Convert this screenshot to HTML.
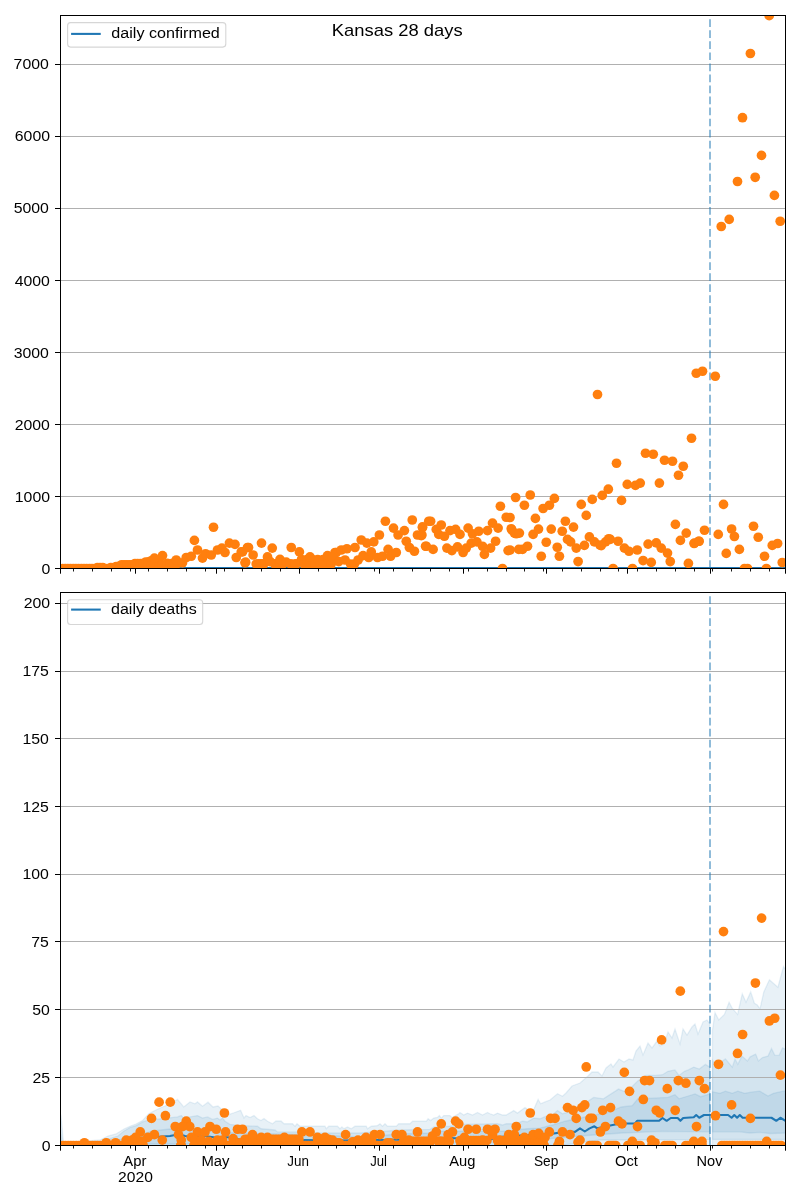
<!DOCTYPE html><html><head><meta charset="utf-8"><style>html,body{margin:0;padding:0;background:#fff;}svg{display:block;}text{font-family:"Liberation Sans",sans-serif;fill:#000;}svg{will-change:transform;}</style></head><body>
<svg width="800" height="1200" viewBox="0 0 800 1200">
<rect width="800" height="1200" fill="#fff"/>
<defs><clipPath id="ct"><rect x="60" y="16" width="725.5" height="552.6"/></clipPath><clipPath id="cb"><rect x="60" y="593" width="725.5" height="552.5"/></clipPath></defs>
<g clip-path="url(#ct)">
<line x1="60.5" y1="496.5" x2="785.5" y2="496.5" stroke="#b0b0b0" stroke-width="1.1"/>
<line x1="60.5" y1="424.5" x2="785.5" y2="424.5" stroke="#b0b0b0" stroke-width="1.1"/>
<line x1="60.5" y1="352.5" x2="785.5" y2="352.5" stroke="#b0b0b0" stroke-width="1.1"/>
<line x1="60.5" y1="280.5" x2="785.5" y2="280.5" stroke="#b0b0b0" stroke-width="1.1"/>
<line x1="60.5" y1="208.5" x2="785.5" y2="208.5" stroke="#b0b0b0" stroke-width="1.1"/>
<line x1="60.5" y1="136.5" x2="785.5" y2="136.5" stroke="#b0b0b0" stroke-width="1.1"/>
<line x1="60.5" y1="64.5" x2="785.5" y2="64.5" stroke="#b0b0b0" stroke-width="1.1"/>
<rect x="60" y="567" width="726" height="1.6" fill="#1f77b4"/>
<line x1="710" y1="568" x2="710" y2="15" stroke="#1f77b4" stroke-opacity="0.5" stroke-width="2" stroke-dasharray="7.708 3.333"/>
<g fill="#ff7f0e"><circle cx="59.80" cy="568.55" r="4.86"/><circle cx="62.49" cy="568.55" r="4.86"/><circle cx="65.17" cy="568.55" r="4.86"/><circle cx="67.86" cy="568.55" r="4.86"/><circle cx="70.54" cy="568.55" r="4.86"/><circle cx="73.23" cy="568.55" r="4.86"/><circle cx="75.92" cy="568.55" r="4.86"/><circle cx="78.60" cy="568.55" r="4.86"/><circle cx="81.29" cy="568.55" r="4.86"/><circle cx="83.97" cy="568.55" r="4.86"/><circle cx="86.66" cy="568.55" r="4.86"/><circle cx="89.35" cy="568.55" r="4.86"/><circle cx="92.03" cy="568.55" r="4.86"/><circle cx="94.72" cy="568.55" r="4.86"/><circle cx="97.40" cy="567.60" r="4.86"/><circle cx="100.09" cy="567.60" r="4.86"/><circle cx="102.78" cy="567.60" r="4.86"/><circle cx="105.46" cy="568.55" r="4.86"/><circle cx="108.15" cy="568.55" r="4.86"/><circle cx="110.83" cy="567.60" r="4.86"/><circle cx="113.52" cy="567.60" r="4.86"/><circle cx="116.21" cy="566.60" r="4.86"/><circle cx="118.89" cy="566.60" r="4.86"/><circle cx="121.58" cy="564.80" r="4.86"/><circle cx="124.26" cy="564.80" r="4.86"/><circle cx="126.95" cy="564.80" r="4.86"/><circle cx="129.64" cy="564.80" r="4.86"/><circle cx="132.32" cy="564.80" r="4.86"/><circle cx="135.01" cy="563.50" r="4.86"/><circle cx="137.69" cy="563.50" r="4.86"/><circle cx="140.38" cy="563.50" r="4.86"/><circle cx="143.07" cy="563.50" r="4.86"/><circle cx="145.75" cy="562.00" r="4.86"/><circle cx="148.44" cy="562.00" r="4.86"/><circle cx="151.12" cy="560.80" r="4.86"/><circle cx="156.50" cy="563.30" r="4.86"/><circle cx="159.18" cy="562.30" r="4.86"/><circle cx="164.55" cy="565.30" r="4.86"/><circle cx="167.24" cy="563.30" r="4.86"/><circle cx="169.93" cy="564.30" r="4.86"/><circle cx="172.61" cy="563.30" r="4.86"/><circle cx="177.98" cy="563.30" r="4.86"/><circle cx="258.56" cy="563.80" r="4.86"/><circle cx="261.25" cy="563.80" r="4.86"/><circle cx="263.94" cy="563.80" r="4.86"/><circle cx="274.68" cy="563.80" r="4.86"/><circle cx="277.37" cy="563.80" r="4.86"/><circle cx="280.05" cy="563.80" r="4.86"/><circle cx="282.74" cy="563.80" r="4.86"/><circle cx="290.80" cy="563.80" r="4.86"/><circle cx="296.17" cy="563.80" r="4.86"/><circle cx="148.44" cy="565.50" r="4.86"/><circle cx="151.12" cy="565.50" r="4.86"/><circle cx="153.81" cy="565.50" r="4.86"/><circle cx="156.50" cy="565.50" r="4.86"/><circle cx="159.18" cy="565.50" r="4.86"/><circle cx="161.87" cy="565.50" r="4.86"/><circle cx="164.55" cy="565.50" r="4.86"/><circle cx="167.24" cy="565.50" r="4.86"/><circle cx="169.93" cy="565.50" r="4.86"/><circle cx="172.61" cy="565.50" r="4.86"/><circle cx="301.54" cy="559.50" r="4.86"/><circle cx="304.23" cy="564.30" r="4.86"/><circle cx="306.91" cy="559.50" r="4.86"/><circle cx="309.60" cy="564.30" r="4.86"/><circle cx="312.28" cy="559.50" r="4.86"/><circle cx="314.97" cy="564.30" r="4.86"/><circle cx="317.66" cy="559.50" r="4.86"/><circle cx="320.34" cy="564.30" r="4.86"/><circle cx="323.03" cy="559.50" r="4.86"/><circle cx="325.71" cy="564.30" r="4.86"/><circle cx="328.40" cy="559.50" r="4.86"/><circle cx="331.09" cy="564.30" r="4.86"/><circle cx="597.50" cy="394.50" r="4.86"/><circle cx="696.25" cy="373.25" r="4.86"/><circle cx="702.50" cy="371.25" r="4.86"/><circle cx="715.25" cy="376.25" r="4.86"/><circle cx="691.50" cy="438.25" r="4.86"/><circle cx="616.50" cy="463.25" r="4.86"/><circle cx="645.50" cy="453.25" r="4.86"/><circle cx="653.25" cy="454.25" r="4.86"/><circle cx="664.50" cy="460.25" r="4.86"/><circle cx="672.50" cy="461.25" r="4.86"/><circle cx="683.25" cy="466.25" r="4.86"/><circle cx="678.50" cy="475.25" r="4.86"/><circle cx="769.20" cy="15.60" r="4.86"/><circle cx="750.40" cy="53.50" r="4.86"/><circle cx="742.50" cy="117.70" r="4.86"/><circle cx="761.50" cy="155.40" r="4.86"/><circle cx="755.20" cy="177.30" r="4.86"/><circle cx="737.50" cy="181.50" r="4.86"/><circle cx="774.40" cy="195.40" r="4.86"/><circle cx="729.20" cy="219.40" r="4.86"/><circle cx="721.25" cy="226.50" r="4.86"/><circle cx="780.20" cy="221.25" r="4.86"/><circle cx="154.40" cy="558.10" r="4.86"/><circle cx="162.50" cy="555.60" r="4.86"/><circle cx="176.25" cy="560.00" r="4.86"/><circle cx="182.50" cy="562.80" r="4.86"/><circle cx="186.25" cy="557.50" r="4.86"/><circle cx="191.25" cy="556.25" r="4.86"/><circle cx="197.50" cy="550.00" r="4.86"/><circle cx="202.50" cy="558.10" r="4.86"/><circle cx="205.60" cy="553.75" r="4.86"/><circle cx="211.25" cy="555.00" r="4.86"/><circle cx="217.50" cy="550.00" r="4.86"/><circle cx="221.90" cy="548.10" r="4.86"/><circle cx="225.00" cy="552.50" r="4.86"/><circle cx="229.40" cy="543.10" r="4.86"/><circle cx="235.00" cy="544.40" r="4.86"/><circle cx="236.25" cy="557.50" r="4.86"/><circle cx="241.25" cy="551.90" r="4.86"/><circle cx="245.00" cy="562.80" r="4.86"/><circle cx="247.50" cy="547.50" r="4.86"/><circle cx="194.40" cy="540.40" r="4.86"/><circle cx="213.50" cy="527.25" r="4.86"/><circle cx="242.50" cy="551.90" r="4.86"/><circle cx="248.50" cy="547.50" r="4.86"/><circle cx="245.60" cy="562.20" r="4.86"/><circle cx="253.10" cy="555.00" r="4.86"/><circle cx="256.25" cy="564.05" r="4.86"/><circle cx="261.50" cy="543.10" r="4.86"/><circle cx="267.50" cy="556.90" r="4.86"/><circle cx="272.25" cy="548.10" r="4.86"/><circle cx="270.00" cy="561.55" r="4.86"/><circle cx="280.00" cy="559.40" r="4.86"/><circle cx="286.25" cy="562.20" r="4.86"/><circle cx="291.25" cy="547.50" r="4.86"/><circle cx="299.40" cy="551.90" r="4.86"/><circle cx="295.00" cy="564.05" r="4.86"/><circle cx="310.00" cy="556.90" r="4.86"/><circle cx="327.50" cy="555.60" r="4.86"/><circle cx="336.25" cy="552.50" r="4.86"/><circle cx="335.00" cy="552.50" r="4.86"/><circle cx="341.25" cy="550.00" r="4.86"/><circle cx="346.90" cy="548.75" r="4.86"/><circle cx="355.00" cy="547.50" r="4.86"/><circle cx="361.25" cy="540.00" r="4.86"/><circle cx="366.90" cy="543.10" r="4.86"/><circle cx="373.75" cy="541.90" r="4.86"/><circle cx="379.40" cy="535.00" r="4.86"/><circle cx="385.40" cy="521.25" r="4.86"/><circle cx="393.50" cy="528.10" r="4.86"/><circle cx="398.10" cy="535.00" r="4.86"/><circle cx="404.40" cy="530.60" r="4.86"/><circle cx="406.25" cy="541.25" r="4.86"/><circle cx="409.40" cy="547.50" r="4.86"/><circle cx="414.40" cy="551.25" r="4.86"/><circle cx="412.25" cy="520.00" r="4.86"/><circle cx="422.50" cy="526.90" r="4.86"/><circle cx="417.50" cy="535.00" r="4.86"/><circle cx="421.25" cy="535.60" r="4.86"/><circle cx="426.25" cy="546.25" r="4.86"/><circle cx="428.75" cy="521.25" r="4.86"/><circle cx="332.50" cy="557.50" r="4.86"/><circle cx="338.75" cy="561.55" r="4.86"/><circle cx="345.00" cy="560.00" r="4.86"/><circle cx="350.60" cy="564.05" r="4.86"/><circle cx="354.40" cy="564.05" r="4.86"/><circle cx="358.10" cy="560.00" r="4.86"/><circle cx="363.10" cy="555.60" r="4.86"/><circle cx="368.75" cy="557.50" r="4.86"/><circle cx="371.25" cy="551.90" r="4.86"/><circle cx="377.50" cy="557.50" r="4.86"/><circle cx="382.50" cy="556.25" r="4.86"/><circle cx="388.10" cy="549.40" r="4.86"/><circle cx="390.60" cy="556.25" r="4.86"/><circle cx="396.25" cy="552.50" r="4.86"/><circle cx="422.50" cy="527.50" r="4.86"/><circle cx="421.90" cy="535.00" r="4.86"/><circle cx="430.60" cy="521.25" r="4.86"/><circle cx="436.25" cy="529.40" r="4.86"/><circle cx="441.25" cy="525.00" r="4.86"/><circle cx="438.75" cy="534.40" r="4.86"/><circle cx="444.40" cy="536.25" r="4.86"/><circle cx="450.00" cy="530.60" r="4.86"/><circle cx="455.60" cy="529.40" r="4.86"/><circle cx="460.00" cy="534.40" r="4.86"/><circle cx="468.10" cy="528.10" r="4.86"/><circle cx="472.50" cy="533.75" r="4.86"/><circle cx="478.75" cy="531.25" r="4.86"/><circle cx="487.50" cy="530.60" r="4.86"/><circle cx="492.50" cy="523.10" r="4.86"/><circle cx="498.10" cy="528.10" r="4.86"/><circle cx="500.40" cy="506.25" r="4.86"/><circle cx="506.25" cy="517.25" r="4.86"/><circle cx="511.25" cy="528.75" r="4.86"/><circle cx="515.60" cy="497.50" r="4.86"/><circle cx="516.25" cy="533.75" r="4.86"/><circle cx="425.60" cy="546.25" r="4.86"/><circle cx="433.10" cy="549.40" r="4.86"/><circle cx="446.90" cy="548.10" r="4.86"/><circle cx="451.90" cy="550.60" r="4.86"/><circle cx="457.50" cy="546.90" r="4.86"/><circle cx="463.10" cy="552.50" r="4.86"/><circle cx="466.25" cy="548.10" r="4.86"/><circle cx="471.25" cy="543.10" r="4.86"/><circle cx="476.90" cy="541.90" r="4.86"/><circle cx="482.50" cy="546.25" r="4.86"/><circle cx="484.40" cy="554.40" r="4.86"/><circle cx="490.60" cy="548.10" r="4.86"/><circle cx="495.60" cy="541.25" r="4.86"/><circle cx="502.50" cy="568.55" r="4.86"/><circle cx="508.10" cy="550.60" r="4.86"/><circle cx="518.75" cy="549.40" r="4.86"/><circle cx="524.40" cy="505.25" r="4.86"/><circle cx="530.25" cy="495.00" r="4.86"/><circle cx="535.40" cy="518.40" r="4.86"/><circle cx="543.10" cy="508.50" r="4.86"/><circle cx="549.40" cy="505.25" r="4.86"/><circle cx="554.40" cy="498.40" r="4.86"/><circle cx="581.25" cy="504.40" r="4.86"/><circle cx="586.25" cy="515.40" r="4.86"/><circle cx="592.25" cy="499.40" r="4.86"/><circle cx="602.25" cy="495.40" r="4.86"/><circle cx="608.30" cy="489.20" r="4.86"/><circle cx="510.00" cy="517.50" r="4.86"/><circle cx="511.90" cy="530.00" r="4.86"/><circle cx="514.40" cy="533.10" r="4.86"/><circle cx="519.40" cy="533.10" r="4.86"/><circle cx="510.00" cy="550.00" r="4.86"/><circle cx="522.50" cy="549.40" r="4.86"/><circle cx="527.50" cy="546.25" r="4.86"/><circle cx="533.10" cy="534.40" r="4.86"/><circle cx="538.50" cy="529.10" r="4.86"/><circle cx="541.25" cy="556.25" r="4.86"/><circle cx="546.25" cy="542.25" r="4.86"/><circle cx="551.25" cy="529.10" r="4.86"/><circle cx="557.25" cy="547.25" r="4.86"/><circle cx="559.40" cy="556.25" r="4.86"/><circle cx="562.25" cy="531.25" r="4.86"/><circle cx="565.40" cy="521.25" r="4.86"/><circle cx="567.50" cy="539.40" r="4.86"/><circle cx="570.60" cy="541.90" r="4.86"/><circle cx="573.50" cy="527.10" r="4.86"/><circle cx="576.25" cy="548.10" r="4.86"/><circle cx="578.10" cy="561.55" r="4.86"/><circle cx="584.40" cy="545.40" r="4.86"/><circle cx="589.40" cy="536.90" r="4.86"/><circle cx="594.40" cy="541.90" r="4.86"/><circle cx="600.00" cy="545.00" r="4.86"/><circle cx="605.60" cy="541.90" r="4.86"/><circle cx="608.75" cy="538.75" r="4.86"/><circle cx="621.50" cy="500.40" r="4.86"/><circle cx="627.25" cy="484.40" r="4.86"/><circle cx="635.40" cy="485.40" r="4.86"/><circle cx="640.25" cy="483.10" r="4.86"/><circle cx="659.40" cy="483.10" r="4.86"/><circle cx="601.25" cy="545.60" r="4.86"/><circle cx="610.25" cy="539.40" r="4.86"/><circle cx="618.10" cy="541.25" r="4.86"/><circle cx="624.40" cy="548.10" r="4.86"/><circle cx="629.00" cy="551.25" r="4.86"/><circle cx="637.25" cy="550.00" r="4.86"/><circle cx="648.10" cy="544.10" r="4.86"/><circle cx="656.25" cy="542.90" r="4.86"/><circle cx="661.25" cy="548.10" r="4.86"/><circle cx="667.50" cy="553.10" r="4.86"/><circle cx="670.25" cy="561.55" r="4.86"/><circle cx="643.10" cy="560.55" r="4.86"/><circle cx="651.25" cy="562.40" r="4.86"/><circle cx="613.10" cy="568.55" r="4.86"/><circle cx="632.50" cy="568.55" r="4.86"/><circle cx="675.40" cy="524.40" r="4.86"/><circle cx="686.25" cy="533.10" r="4.86"/><circle cx="680.40" cy="540.40" r="4.86"/><circle cx="688.40" cy="563.40" r="4.86"/><circle cx="694.40" cy="543.10" r="4.86"/><circle cx="698.75" cy="541.25" r="4.86"/><circle cx="723.50" cy="504.40" r="4.86"/><circle cx="704.50" cy="530.25" r="4.86"/><circle cx="694.10" cy="543.50" r="4.86"/><circle cx="699.10" cy="541.25" r="4.86"/><circle cx="718.25" cy="534.40" r="4.86"/><circle cx="731.60" cy="529.00" r="4.86"/><circle cx="734.40" cy="536.50" r="4.86"/><circle cx="726.25" cy="553.40" r="4.86"/><circle cx="739.40" cy="549.40" r="4.86"/><circle cx="744.50" cy="568.55" r="4.86"/><circle cx="747.50" cy="568.55" r="4.86"/><circle cx="753.50" cy="526.25" r="4.86"/><circle cx="758.25" cy="537.25" r="4.86"/><circle cx="764.50" cy="556.25" r="4.86"/><circle cx="766.40" cy="568.55" r="4.86"/><circle cx="772.25" cy="545.40" r="4.86"/><circle cx="777.60" cy="543.50" r="4.86"/><circle cx="782.25" cy="562.55" r="4.86"/></g>
</g>
<g clip-path="url(#cb)">
<polygon points="60.00,1113.00 61.00,1116.00 63.50,1143.00 100.00,1140.00 108.00,1136.00 116.00,1134.00 124.00,1129.00 130.00,1126.25 136.00,1124.00 142.50,1120.60 148.75,1113.75 155.00,1110.50 161.25,1107.50 170.00,1104.00 177.50,1099.40 183.75,1106.90 190.00,1101.90 195.00,1103.75 197.50,1101.90 202.50,1106.25 208.00,1102.20 213.00,1107.00 218.00,1106.00 221.00,1108.70 224.00,1109.50 229.00,1114.40 234.00,1112.75 240.60,1110.30 244.00,1118.00 246.00,1115.60 250.00,1117.50 254.00,1115.60 257.50,1118.75 261.00,1120.60 264.00,1118.50 267.50,1121.25 272.50,1123.75 276.00,1121.00 281.00,1121.00 284.00,1123.75 292.50,1123.75 295.00,1126.25 297.00,1123.75 300.00,1126.25 310.00,1126.25 325.00,1126.25 326.25,1128.75 328.75,1126.25 337.50,1126.25 340.00,1128.75 341.90,1126.90 343.75,1128.75 347.50,1126.90 351.25,1128.75 355.00,1126.25 366.25,1126.25 367.50,1128.75 371.25,1126.25 377.50,1125.60 380.00,1123.75 382.50,1126.25 385.00,1123.75 387.50,1126.25 396.25,1126.25 398.75,1123.75 410.00,1123.75 412.50,1121.25 426.25,1121.25 428.10,1118.75 430.60,1120.60 433.75,1118.10 437.50,1117.50 439.40,1115.60 441.25,1118.10 443.75,1115.60 450.00,1115.60 451.90,1117.50 458.75,1113.75 460.00,1112.50 463.75,1115.00 467.50,1113.10 472.50,1115.00 477.50,1112.50 482.50,1115.00 487.50,1112.50 490.00,1113.75 493.75,1115.00 497.50,1113.10 502.50,1115.00 506.25,1115.00 513.75,1110.60 517.50,1113.10 525.00,1107.50 528.75,1110.00 533.75,1109.40 538.10,1099.40 540.60,1103.75 545.00,1101.90 550.00,1100.00 557.50,1093.75 562.50,1096.25 566.00,1093.00 572.00,1086.00 580.00,1083.00 588.00,1076.00 592.00,1072.00 598.00,1072.00 602.00,1076.00 606.00,1068.00 611.00,1064.00 613.00,1067.00 619.00,1059.00 624.00,1062.00 629.00,1059.00 633.00,1060.00 636.00,1051.00 640.00,1046.00 643.00,1055.00 648.00,1043.00 652.00,1048.00 657.00,1041.00 660.00,1046.00 664.00,1044.00 668.00,1032.00 672.00,1038.00 675.00,1029.00 680.00,1044.00 683.00,1029.00 687.00,1035.00 692.00,1027.00 695.00,1024.00 698.00,1034.00 703.00,1022.00 707.00,1020.00 709.80,1024.00 709.80,1145.40 60.50,1145.40" fill="#1f77b4" fill-opacity="0.1" stroke="#1f77b4" stroke-opacity="0.1" stroke-width="1.3"/>
<polygon points="712.50,1030.00 715.00,1012.60 718.80,1020.00 724.40,1014.40 729.10,1002.25 732.00,1007.90 737.60,1014.40 742.25,993.80 746.00,1002.25 750.70,991.90 754.40,1003.20 757.30,1005.00 760.00,1008.80 763.80,991.90 769.40,979.70 777.90,987.20 783.50,966.60 785.50,969.40 785.50,1145.40 712.50,1145.40" fill="#1f77b4" fill-opacity="0.1" stroke="#1f77b4" stroke-opacity="0.1" stroke-width="1.3"/>
<polygon points="60.00,1125.00 62.50,1145.40 100.00,1143.00 108.00,1139.00 118.00,1136.00 124.00,1131.00 130.00,1127.50 136.25,1125.60 142.50,1121.90 148.75,1120.00 155.00,1119.40 161.25,1118.75 167.50,1118.10 177.50,1116.90 181.25,1115.60 183.75,1118.10 190.00,1116.90 197.50,1115.60 202.50,1118.10 207.50,1116.90 212.50,1119.40 217.50,1118.10 220.00,1120.00 222.50,1118.10 225.00,1121.25 230.00,1124.40 240.00,1125.60 257.50,1126.25 261.00,1128.75 275.00,1130.00 277.50,1131.90 297.50,1131.90 320.00,1133.00 360.00,1133.00 375.00,1132.00 400.00,1130.00 430.00,1129.40 434.00,1127.00 450.00,1126.25 460.00,1124.40 497.50,1123.75 502.50,1125.00 506.25,1123.75 515.00,1123.75 522.50,1121.25 527.50,1121.90 533.75,1118.10 540.00,1118.75 546.25,1116.25 550.00,1116.90 557.50,1110.60 562.50,1113.75 567.50,1112.50 577.50,1106.90 585.00,1103.10 593.75,1097.40 603.40,1098.80 618.50,1089.10 625.40,1091.90 632.30,1086.40 637.80,1080.90 646.00,1075.40 655.65,1075.40 662.50,1074.70 668.00,1071.30 674.90,1069.90 679.00,1075.40 684.50,1071.30 688.25,1069.90 693.75,1067.10 699.25,1069.00 705.40,1064.40 709.80,1067.10 709.80,1139.40 600.00,1140.00 560.00,1145.40 60.50,1145.40" fill="#1f77b4" fill-opacity="0.1" stroke="#1f77b4" stroke-opacity="0.1" stroke-width="1.3"/>
<polygon points="712.50,1060.30 715.80,1065.80 725.40,1058.90 732.30,1067.10 735.00,1058.90 737.80,1064.40 741.90,1056.10 747.40,1061.00 750.15,1056.80 755.65,1054.10 758.40,1061.00 762.50,1057.50 768.00,1056.10 771.50,1048.60 774.90,1055.40 779.00,1055.40 782.50,1047.90 785.50,1049.30 785.50,1139.40 712.50,1139.40" fill="#1f77b4" fill-opacity="0.1" stroke="#1f77b4" stroke-opacity="0.1" stroke-width="1.3"/>
<polygon points="60.50,1140.00 62.50,1145.40 100.00,1144.00 118.00,1140.00 138.00,1136.00 152.00,1131.00 170.00,1129.00 198.00,1130.00 218.00,1130.00 220.00,1132.50 320.00,1135.00 360.00,1137.00 400.00,1134.00 430.00,1133.00 440.00,1131.25 490.00,1131.25 502.50,1131.25 515.00,1130.00 527.50,1128.75 540.00,1128.10 552.50,1125.00 565.00,1121.25 580.00,1118.00 607.50,1112.50 621.25,1107.00 632.30,1105.65 637.80,1098.80 668.00,1097.40 674.90,1094.65 679.00,1098.80 688.25,1096.00 695.10,1094.00 700.60,1096.70 709.80,1094.00 709.80,1131.80 662.00,1131.30 622.00,1133.00 580.00,1136.00 500.00,1143.00 120.00,1144.00 60.50,1145.40" fill="#1f77b4" fill-opacity="0.1" stroke="#1f77b4" stroke-opacity="0.1" stroke-width="1.3"/>
<polygon points="712.50,1091.90 720.00,1093.30 725.40,1091.20 732.30,1093.30 737.80,1091.20 744.60,1093.30 752.90,1091.90 759.80,1091.20 768.00,1096.00 773.50,1093.30 783.20,1091.20 785.50,1091.20 785.50,1133.00 770.00,1133.50 760.00,1132.30 750.00,1133.00 740.00,1131.80 712.50,1131.80" fill="#1f77b4" fill-opacity="0.1" stroke="#1f77b4" stroke-opacity="0.1" stroke-width="1.3"/>
<line x1="60.5" y1="1077.5" x2="785.5" y2="1077.5" stroke="#b0b0b0" stroke-width="1.1"/>
<line x1="60.5" y1="1009.5" x2="785.5" y2="1009.5" stroke="#b0b0b0" stroke-width="1.1"/>
<line x1="60.5" y1="941.5" x2="785.5" y2="941.5" stroke="#b0b0b0" stroke-width="1.1"/>
<line x1="60.5" y1="874.5" x2="785.5" y2="874.5" stroke="#b0b0b0" stroke-width="1.1"/>
<line x1="60.5" y1="806.5" x2="785.5" y2="806.5" stroke="#b0b0b0" stroke-width="1.1"/>
<line x1="60.5" y1="738.5" x2="785.5" y2="738.5" stroke="#b0b0b0" stroke-width="1.1"/>
<line x1="60.5" y1="671.5" x2="785.5" y2="671.5" stroke="#b0b0b0" stroke-width="1.1"/>
<line x1="60.5" y1="603.5" x2="785.5" y2="603.5" stroke="#b0b0b0" stroke-width="1.1"/>
<polyline points="60.50,1145.40 100.00,1145.00 125.00,1142.00 140.00,1138.00 155.00,1137.00 170.00,1136.00 175.00,1135.00 180.00,1134.50 185.00,1136.00 195.00,1137.00 205.00,1136.00 215.00,1137.50 225.00,1137.00 235.00,1138.00 240.00,1140.00 245.00,1140.50 260.00,1140.00 280.00,1140.50 300.00,1140.00 340.00,1140.50 380.00,1140.00 400.00,1139.50 410.00,1140.00 430.00,1139.00 450.00,1138.00 470.00,1139.00 490.00,1139.40 500.00,1137.00 510.00,1136.00 530.00,1135.00 552.00,1133.75 565.00,1131.90 575.00,1131.90 580.00,1128.35 584.80,1131.50 589.60,1128.35 594.40,1126.30 597.20,1128.35 610.30,1125.60 620.00,1123.50 635.00,1123.50 637.10,1120.80 659.10,1120.80 662.50,1118.00 666.65,1120.80 670.80,1118.00 677.70,1118.00 680.40,1120.80 683.20,1118.00 693.75,1117.30 696.20,1115.00 699.25,1117.75 704.00,1115.00 728.10,1115.00 731.60,1117.75 734.30,1115.00 737.10,1117.75 739.80,1115.00 742.60,1117.75 771.50,1117.75 776.30,1120.80 780.40,1117.75 785.50,1120.80" fill="none" stroke="#1f77b4" stroke-width="2.08" stroke-linejoin="round"/>
<line x1="710" y1="1145" x2="710" y2="592" stroke="#1f77b4" stroke-opacity="0.5" stroke-width="2" stroke-dasharray="7.708 3.333"/>
<g fill="#ff7f0e"><circle cx="62.86" cy="1145.50" r="4.86"/><circle cx="65.54" cy="1145.50" r="4.86"/><circle cx="68.21" cy="1145.50" r="4.86"/><circle cx="70.89" cy="1145.50" r="4.86"/><circle cx="73.56" cy="1145.50" r="4.86"/><circle cx="76.24" cy="1145.50" r="4.86"/><circle cx="78.92" cy="1145.50" r="4.86"/><circle cx="81.59" cy="1145.50" r="4.86"/><circle cx="84.27" cy="1145.50" r="4.86"/><circle cx="86.94" cy="1145.50" r="4.86"/><circle cx="89.62" cy="1145.50" r="4.86"/><circle cx="92.30" cy="1145.50" r="4.86"/><circle cx="94.97" cy="1145.50" r="4.86"/><circle cx="97.65" cy="1145.50" r="4.86"/><circle cx="100.32" cy="1145.50" r="4.86"/><circle cx="103.00" cy="1145.50" r="4.86"/><circle cx="105.68" cy="1145.50" r="4.86"/><circle cx="108.35" cy="1145.50" r="4.86"/><circle cx="111.03" cy="1145.50" r="4.86"/><circle cx="113.70" cy="1145.50" r="4.86"/><circle cx="116.38" cy="1145.50" r="4.86"/><circle cx="119.06" cy="1145.50" r="4.86"/><circle cx="121.73" cy="1145.50" r="4.86"/><circle cx="124.41" cy="1145.50" r="4.86"/><circle cx="127.08" cy="1145.50" r="4.86"/><circle cx="129.76" cy="1145.50" r="4.86"/><circle cx="132.44" cy="1145.50" r="4.86"/><circle cx="135.11" cy="1145.50" r="4.86"/><circle cx="137.79" cy="1145.50" r="4.86"/><circle cx="140.46" cy="1145.50" r="4.86"/><circle cx="143.14" cy="1145.50" r="4.86"/><circle cx="180.86" cy="1145.50" r="4.86"/><circle cx="181.14" cy="1145.50" r="4.86"/><circle cx="193.86" cy="1145.50" r="4.86"/><circle cx="196.52" cy="1145.50" r="4.86"/><circle cx="199.18" cy="1145.50" r="4.86"/><circle cx="201.85" cy="1145.50" r="4.86"/><circle cx="204.51" cy="1145.50" r="4.86"/><circle cx="207.17" cy="1145.50" r="4.86"/><circle cx="209.83" cy="1145.50" r="4.86"/><circle cx="212.50" cy="1145.50" r="4.86"/><circle cx="215.16" cy="1145.50" r="4.86"/><circle cx="217.82" cy="1145.50" r="4.86"/><circle cx="220.48" cy="1145.50" r="4.86"/><circle cx="223.15" cy="1145.50" r="4.86"/><circle cx="225.81" cy="1145.50" r="4.86"/><circle cx="228.47" cy="1145.50" r="4.86"/><circle cx="231.13" cy="1145.50" r="4.86"/><circle cx="233.79" cy="1145.50" r="4.86"/><circle cx="236.46" cy="1145.50" r="4.86"/><circle cx="239.12" cy="1145.50" r="4.86"/><circle cx="241.78" cy="1145.50" r="4.86"/><circle cx="244.44" cy="1145.50" r="4.86"/><circle cx="247.11" cy="1145.50" r="4.86"/><circle cx="249.77" cy="1145.50" r="4.86"/><circle cx="252.43" cy="1145.50" r="4.86"/><circle cx="255.09" cy="1145.50" r="4.86"/><circle cx="257.75" cy="1145.50" r="4.86"/><circle cx="260.42" cy="1145.50" r="4.86"/><circle cx="263.08" cy="1145.50" r="4.86"/><circle cx="265.74" cy="1145.50" r="4.86"/><circle cx="268.40" cy="1145.50" r="4.86"/><circle cx="271.07" cy="1145.50" r="4.86"/><circle cx="273.73" cy="1145.50" r="4.86"/><circle cx="276.39" cy="1145.50" r="4.86"/><circle cx="279.05" cy="1145.50" r="4.86"/><circle cx="281.72" cy="1145.50" r="4.86"/><circle cx="284.38" cy="1145.50" r="4.86"/><circle cx="287.04" cy="1145.50" r="4.86"/><circle cx="289.70" cy="1145.50" r="4.86"/><circle cx="292.36" cy="1145.50" r="4.86"/><circle cx="295.03" cy="1145.50" r="4.86"/><circle cx="297.69" cy="1145.50" r="4.86"/><circle cx="300.35" cy="1145.50" r="4.86"/><circle cx="303.01" cy="1145.50" r="4.86"/><circle cx="305.68" cy="1145.50" r="4.86"/><circle cx="308.34" cy="1145.50" r="4.86"/><circle cx="311.00" cy="1145.50" r="4.86"/><circle cx="313.66" cy="1145.50" r="4.86"/><circle cx="316.32" cy="1145.50" r="4.86"/><circle cx="318.99" cy="1145.50" r="4.86"/><circle cx="321.65" cy="1145.50" r="4.86"/><circle cx="324.31" cy="1145.50" r="4.86"/><circle cx="326.97" cy="1145.50" r="4.86"/><circle cx="329.64" cy="1145.50" r="4.86"/><circle cx="332.30" cy="1145.50" r="4.86"/><circle cx="334.96" cy="1145.50" r="4.86"/><circle cx="337.62" cy="1145.50" r="4.86"/><circle cx="340.28" cy="1145.50" r="4.86"/><circle cx="342.95" cy="1145.50" r="4.86"/><circle cx="345.61" cy="1145.50" r="4.86"/><circle cx="348.27" cy="1145.50" r="4.86"/><circle cx="350.93" cy="1145.50" r="4.86"/><circle cx="353.60" cy="1145.50" r="4.86"/><circle cx="356.26" cy="1145.50" r="4.86"/><circle cx="358.92" cy="1145.50" r="4.86"/><circle cx="361.58" cy="1145.50" r="4.86"/><circle cx="364.25" cy="1145.50" r="4.86"/><circle cx="366.91" cy="1145.50" r="4.86"/><circle cx="369.57" cy="1145.50" r="4.86"/><circle cx="372.23" cy="1145.50" r="4.86"/><circle cx="374.89" cy="1145.50" r="4.86"/><circle cx="377.56" cy="1145.50" r="4.86"/><circle cx="380.22" cy="1145.50" r="4.86"/><circle cx="382.88" cy="1145.50" r="4.86"/><circle cx="385.54" cy="1145.50" r="4.86"/><circle cx="388.21" cy="1145.50" r="4.86"/><circle cx="390.87" cy="1145.50" r="4.86"/><circle cx="393.53" cy="1145.50" r="4.86"/><circle cx="396.19" cy="1145.50" r="4.86"/><circle cx="398.86" cy="1145.50" r="4.86"/><circle cx="401.52" cy="1145.50" r="4.86"/><circle cx="404.18" cy="1145.50" r="4.86"/><circle cx="406.84" cy="1145.50" r="4.86"/><circle cx="409.50" cy="1145.50" r="4.86"/><circle cx="412.17" cy="1145.50" r="4.86"/><circle cx="414.83" cy="1145.50" r="4.86"/><circle cx="417.49" cy="1145.50" r="4.86"/><circle cx="420.15" cy="1145.50" r="4.86"/><circle cx="422.82" cy="1145.50" r="4.86"/><circle cx="425.48" cy="1145.50" r="4.86"/><circle cx="428.14" cy="1145.50" r="4.86"/><circle cx="439.86" cy="1145.50" r="4.86"/><circle cx="442.29" cy="1145.50" r="4.86"/><circle cx="444.71" cy="1145.50" r="4.86"/><circle cx="447.14" cy="1145.50" r="4.86"/><circle cx="460.86" cy="1145.50" r="4.86"/><circle cx="463.45" cy="1145.50" r="4.86"/><circle cx="466.03" cy="1145.50" r="4.86"/><circle cx="468.62" cy="1145.50" r="4.86"/><circle cx="471.21" cy="1145.50" r="4.86"/><circle cx="473.79" cy="1145.50" r="4.86"/><circle cx="476.38" cy="1145.50" r="4.86"/><circle cx="478.97" cy="1145.50" r="4.86"/><circle cx="481.55" cy="1145.50" r="4.86"/><circle cx="484.14" cy="1145.50" r="4.86"/><circle cx="498.86" cy="1145.50" r="4.86"/><circle cx="501.29" cy="1145.50" r="4.86"/><circle cx="503.71" cy="1145.50" r="4.86"/><circle cx="506.14" cy="1145.50" r="4.86"/><circle cx="519.86" cy="1145.50" r="4.86"/><circle cx="522.29" cy="1145.50" r="4.86"/><circle cx="524.72" cy="1145.50" r="4.86"/><circle cx="527.14" cy="1145.50" r="4.86"/><circle cx="529.57" cy="1145.50" r="4.86"/><circle cx="532.00" cy="1145.50" r="4.86"/><circle cx="534.43" cy="1145.50" r="4.86"/><circle cx="536.86" cy="1145.50" r="4.86"/><circle cx="539.28" cy="1145.50" r="4.86"/><circle cx="541.71" cy="1145.50" r="4.86"/><circle cx="544.14" cy="1145.50" r="4.86"/><circle cx="557.86" cy="1145.50" r="4.86"/><circle cx="559.14" cy="1145.50" r="4.86"/><circle cx="589.86" cy="1145.50" r="4.86"/><circle cx="592.29" cy="1145.50" r="4.86"/><circle cx="594.71" cy="1145.50" r="4.86"/><circle cx="597.14" cy="1145.50" r="4.86"/><circle cx="608.86" cy="1145.50" r="4.86"/><circle cx="611.15" cy="1145.50" r="4.86"/><circle cx="613.45" cy="1145.50" r="4.86"/><circle cx="615.74" cy="1145.50" r="4.86"/><circle cx="627.86" cy="1145.50" r="4.86"/><circle cx="630.32" cy="1145.50" r="4.86"/><circle cx="632.77" cy="1145.50" r="4.86"/><circle cx="635.23" cy="1145.50" r="4.86"/><circle cx="637.68" cy="1145.50" r="4.86"/><circle cx="640.14" cy="1145.50" r="4.86"/><circle cx="651.86" cy="1145.50" r="4.86"/><circle cx="653.14" cy="1145.50" r="4.86"/><circle cx="664.86" cy="1145.50" r="4.86"/><circle cx="667.29" cy="1145.50" r="4.86"/><circle cx="669.71" cy="1145.50" r="4.86"/><circle cx="672.14" cy="1145.50" r="4.86"/><circle cx="685.86" cy="1145.50" r="4.86"/><circle cx="688.19" cy="1145.50" r="4.86"/><circle cx="690.51" cy="1145.50" r="4.86"/><circle cx="692.84" cy="1145.50" r="4.86"/><circle cx="695.16" cy="1145.50" r="4.86"/><circle cx="697.49" cy="1145.50" r="4.86"/><circle cx="699.81" cy="1145.50" r="4.86"/><circle cx="702.14" cy="1145.50" r="4.86"/><circle cx="721.86" cy="1145.50" r="4.86"/><circle cx="724.44" cy="1145.50" r="4.86"/><circle cx="727.01" cy="1145.50" r="4.86"/><circle cx="729.59" cy="1145.50" r="4.86"/><circle cx="732.17" cy="1145.50" r="4.86"/><circle cx="734.75" cy="1145.50" r="4.86"/><circle cx="737.32" cy="1145.50" r="4.86"/><circle cx="739.90" cy="1145.50" r="4.86"/><circle cx="742.48" cy="1145.50" r="4.86"/><circle cx="745.06" cy="1145.50" r="4.86"/><circle cx="747.63" cy="1145.50" r="4.86"/><circle cx="750.21" cy="1145.50" r="4.86"/><circle cx="752.79" cy="1145.50" r="4.86"/><circle cx="755.37" cy="1145.50" r="4.86"/><circle cx="757.94" cy="1145.50" r="4.86"/><circle cx="760.52" cy="1145.50" r="4.86"/><circle cx="763.10" cy="1145.50" r="4.86"/><circle cx="765.68" cy="1145.50" r="4.86"/><circle cx="768.25" cy="1145.50" r="4.86"/><circle cx="770.83" cy="1145.50" r="4.86"/><circle cx="773.41" cy="1145.50" r="4.86"/><circle cx="775.99" cy="1145.50" r="4.86"/><circle cx="778.56" cy="1145.50" r="4.86"/><circle cx="781.14" cy="1145.50" r="4.86"/><circle cx="245.13" cy="1139.27" r="4.86"/><circle cx="247.82" cy="1139.27" r="4.86"/><circle cx="250.51" cy="1139.27" r="4.86"/><circle cx="253.19" cy="1139.27" r="4.86"/><circle cx="255.88" cy="1139.27" r="4.86"/><circle cx="258.56" cy="1139.27" r="4.86"/><circle cx="261.25" cy="1139.27" r="4.86"/><circle cx="263.94" cy="1139.27" r="4.86"/><circle cx="266.62" cy="1139.27" r="4.86"/><circle cx="269.31" cy="1139.27" r="4.86"/><circle cx="271.99" cy="1139.27" r="4.86"/><circle cx="274.68" cy="1139.27" r="4.86"/><circle cx="277.37" cy="1139.27" r="4.86"/><circle cx="280.05" cy="1139.27" r="4.86"/><circle cx="282.74" cy="1139.27" r="4.86"/><circle cx="285.42" cy="1139.27" r="4.86"/><circle cx="288.11" cy="1139.27" r="4.86"/><circle cx="290.80" cy="1139.27" r="4.86"/><circle cx="293.48" cy="1139.27" r="4.86"/><circle cx="296.17" cy="1139.27" r="4.86"/><circle cx="298.85" cy="1139.27" r="4.86"/><circle cx="317.66" cy="1139.27" r="4.86"/><circle cx="320.34" cy="1139.27" r="4.86"/><circle cx="323.03" cy="1139.27" r="4.86"/><circle cx="325.71" cy="1139.27" r="4.86"/><circle cx="328.40" cy="1139.27" r="4.86"/><circle cx="331.09" cy="1142.79" r="4.86"/><circle cx="333.77" cy="1142.79" r="4.86"/><circle cx="336.46" cy="1142.79" r="4.86"/><circle cx="339.14" cy="1142.79" r="4.86"/><circle cx="352.57" cy="1141.98" r="4.86"/><circle cx="355.26" cy="1141.98" r="4.86"/><circle cx="357.95" cy="1141.98" r="4.86"/><circle cx="360.63" cy="1141.98" r="4.86"/><circle cx="363.32" cy="1140.09" r="4.86"/><circle cx="366.00" cy="1140.09" r="4.86"/><circle cx="368.69" cy="1140.09" r="4.86"/><circle cx="371.38" cy="1140.09" r="4.86"/><circle cx="387.49" cy="1142.79" r="4.86"/><circle cx="390.18" cy="1142.79" r="4.86"/><circle cx="403.61" cy="1141.44" r="4.86"/><circle cx="406.29" cy="1141.44" r="4.86"/><circle cx="408.98" cy="1141.44" r="4.86"/><circle cx="411.67" cy="1141.44" r="4.86"/><circle cx="414.35" cy="1141.44" r="4.86"/><circle cx="417.04" cy="1141.44" r="4.86"/><circle cx="419.72" cy="1141.44" r="4.86"/><circle cx="422.41" cy="1141.44" r="4.86"/><circle cx="425.10" cy="1141.44" r="4.86"/><circle cx="427.78" cy="1141.44" r="4.86"/><circle cx="430.47" cy="1141.44" r="4.86"/><circle cx="438.53" cy="1141.44" r="4.86"/><circle cx="441.21" cy="1141.44" r="4.86"/><circle cx="443.90" cy="1141.44" r="4.86"/><circle cx="446.58" cy="1141.44" r="4.86"/><circle cx="449.27" cy="1141.44" r="4.86"/><circle cx="460.01" cy="1140.63" r="4.86"/><circle cx="462.70" cy="1140.63" r="4.86"/><circle cx="465.39" cy="1140.63" r="4.86"/><circle cx="468.07" cy="1140.63" r="4.86"/><circle cx="470.76" cy="1140.63" r="4.86"/><circle cx="473.44" cy="1140.63" r="4.86"/><circle cx="476.13" cy="1140.63" r="4.86"/><circle cx="478.82" cy="1140.63" r="4.86"/><circle cx="481.50" cy="1140.63" r="4.86"/><circle cx="484.19" cy="1140.63" r="4.86"/><circle cx="486.87" cy="1140.63" r="4.86"/><circle cx="497.62" cy="1140.63" r="4.86"/><circle cx="500.30" cy="1140.63" r="4.86"/><circle cx="502.99" cy="1140.63" r="4.86"/><circle cx="505.68" cy="1140.63" r="4.86"/><circle cx="508.36" cy="1140.63" r="4.86"/><circle cx="511.05" cy="1140.63" r="4.86"/><circle cx="513.73" cy="1140.63" r="4.86"/><circle cx="516.42" cy="1140.63" r="4.86"/><circle cx="519.11" cy="1140.63" r="4.86"/><circle cx="521.79" cy="1140.63" r="4.86"/><circle cx="524.48" cy="1140.09" r="4.86"/><circle cx="527.16" cy="1140.09" r="4.86"/><circle cx="529.85" cy="1140.09" r="4.86"/><circle cx="532.54" cy="1140.09" r="4.86"/><circle cx="535.22" cy="1140.09" r="4.86"/><circle cx="537.91" cy="1140.09" r="4.86"/><circle cx="540.59" cy="1140.09" r="4.86"/><circle cx="543.28" cy="1140.09" r="4.86"/><circle cx="84.40" cy="1142.79" r="4.86"/><circle cx="106.25" cy="1142.79" r="4.86"/><circle cx="115.60" cy="1142.79" r="4.86"/><circle cx="126.25" cy="1140.09" r="4.86"/><circle cx="140.25" cy="1131.96" r="4.86"/><circle cx="151.50" cy="1118.42" r="4.86"/><circle cx="159.10" cy="1102.18" r="4.86"/><circle cx="154.40" cy="1134.67" r="4.86"/><circle cx="147.80" cy="1137.38" r="4.86"/><circle cx="135.60" cy="1137.38" r="4.86"/><circle cx="170.25" cy="1102.18" r="4.86"/><circle cx="165.40" cy="1115.72" r="4.86"/><circle cx="224.40" cy="1113.01" r="4.86"/><circle cx="175.25" cy="1126.55" r="4.86"/><circle cx="186.25" cy="1121.13" r="4.86"/><circle cx="189.75" cy="1126.55" r="4.86"/><circle cx="182.50" cy="1126.55" r="4.86"/><circle cx="210.00" cy="1126.55" r="4.86"/><circle cx="216.25" cy="1129.26" r="4.86"/><circle cx="197.50" cy="1131.96" r="4.86"/><circle cx="205.00" cy="1131.96" r="4.86"/><circle cx="225.60" cy="1131.96" r="4.86"/><circle cx="178.50" cy="1134.67" r="4.86"/><circle cx="162.25" cy="1140.09" r="4.86"/><circle cx="181.25" cy="1140.09" r="4.86"/><circle cx="191.25" cy="1137.38" r="4.86"/><circle cx="195.00" cy="1140.09" r="4.86"/><circle cx="201.25" cy="1140.09" r="4.86"/><circle cx="208.75" cy="1141.44" r="4.86"/><circle cx="217.50" cy="1140.09" r="4.86"/><circle cx="222.50" cy="1140.09" r="4.86"/><circle cx="132.00" cy="1140.09" r="4.86"/><circle cx="142.50" cy="1141.44" r="4.86"/><circle cx="237.50" cy="1129.26" r="4.86"/><circle cx="242.50" cy="1129.26" r="4.86"/><circle cx="233.10" cy="1138.73" r="4.86"/><circle cx="252.50" cy="1134.67" r="4.86"/><circle cx="261.25" cy="1137.38" r="4.86"/><circle cx="267.50" cy="1137.38" r="4.86"/><circle cx="284.40" cy="1137.38" r="4.86"/><circle cx="301.90" cy="1131.96" r="4.86"/><circle cx="310.00" cy="1131.96" r="4.86"/><circle cx="317.50" cy="1137.38" r="4.86"/><circle cx="240.00" cy="1142.79" r="4.86"/><circle cx="275.00" cy="1140.09" r="4.86"/><circle cx="292.50" cy="1141.44" r="4.86"/><circle cx="325.00" cy="1137.38" r="4.86"/><circle cx="332.50" cy="1140.09" r="4.86"/><circle cx="345.60" cy="1134.67" r="4.86"/><circle cx="358.00" cy="1140.09" r="4.86"/><circle cx="366.00" cy="1137.38" r="4.86"/><circle cx="374.40" cy="1134.67" r="4.86"/><circle cx="380.00" cy="1134.67" r="4.86"/><circle cx="396.25" cy="1134.67" r="4.86"/><circle cx="402.00" cy="1134.67" r="4.86"/><circle cx="408.75" cy="1140.09" r="4.86"/><circle cx="417.50" cy="1131.96" r="4.86"/><circle cx="441.25" cy="1123.84" r="4.86"/><circle cx="455.60" cy="1121.13" r="4.86"/><circle cx="458.75" cy="1123.84" r="4.86"/><circle cx="436.25" cy="1131.96" r="4.86"/><circle cx="452.50" cy="1131.96" r="4.86"/><circle cx="448.10" cy="1134.67" r="4.86"/><circle cx="432.50" cy="1136.02" r="4.86"/><circle cx="468.10" cy="1129.26" r="4.86"/><circle cx="476.25" cy="1129.26" r="4.86"/><circle cx="487.50" cy="1129.26" r="4.86"/><circle cx="495.00" cy="1129.26" r="4.86"/><circle cx="492.50" cy="1134.67" r="4.86"/><circle cx="464.40" cy="1137.38" r="4.86"/><circle cx="482.50" cy="1140.09" r="4.86"/><circle cx="440.00" cy="1141.44" r="4.86"/><circle cx="586.25" cy="1066.98" r="4.86"/><circle cx="530.25" cy="1113.01" r="4.86"/><circle cx="550.60" cy="1118.42" r="4.86"/><circle cx="555.00" cy="1118.42" r="4.86"/><circle cx="567.50" cy="1107.60" r="4.86"/><circle cx="573.10" cy="1110.30" r="4.86"/><circle cx="581.90" cy="1107.60" r="4.86"/><circle cx="584.75" cy="1104.89" r="4.86"/><circle cx="576.25" cy="1118.42" r="4.86"/><circle cx="590.00" cy="1118.42" r="4.86"/><circle cx="516.25" cy="1126.55" r="4.86"/><circle cx="491.25" cy="1130.61" r="4.86"/><circle cx="508.75" cy="1134.67" r="4.86"/><circle cx="514.40" cy="1134.67" r="4.86"/><circle cx="499.40" cy="1140.09" r="4.86"/><circle cx="505.60" cy="1142.79" r="4.86"/><circle cx="524.40" cy="1137.38" r="4.86"/><circle cx="533.10" cy="1134.67" r="4.86"/><circle cx="538.75" cy="1133.32" r="4.86"/><circle cx="549.40" cy="1131.96" r="4.86"/><circle cx="545.00" cy="1137.38" r="4.86"/><circle cx="562.50" cy="1131.96" r="4.86"/><circle cx="570.00" cy="1134.67" r="4.86"/><circle cx="578.10" cy="1142.25" r="4.86"/><circle cx="559.40" cy="1141.44" r="4.86"/><circle cx="661.60" cy="1039.91" r="4.86"/><circle cx="624.30" cy="1072.40" r="4.86"/><circle cx="644.60" cy="1080.52" r="4.86"/><circle cx="649.50" cy="1080.52" r="4.86"/><circle cx="678.35" cy="1080.52" r="4.86"/><circle cx="685.90" cy="1083.23" r="4.86"/><circle cx="629.50" cy="1091.35" r="4.86"/><circle cx="667.30" cy="1088.64" r="4.86"/><circle cx="643.30" cy="1099.47" r="4.86"/><circle cx="602.70" cy="1110.30" r="4.86"/><circle cx="610.50" cy="1107.60" r="4.86"/><circle cx="656.30" cy="1110.30" r="4.86"/><circle cx="659.80" cy="1113.01" r="4.86"/><circle cx="675.20" cy="1110.30" r="4.86"/><circle cx="592.40" cy="1118.42" r="4.86"/><circle cx="618.50" cy="1121.13" r="4.86"/><circle cx="622.00" cy="1123.84" r="4.86"/><circle cx="605.40" cy="1126.55" r="4.86"/><circle cx="600.40" cy="1131.96" r="4.86"/><circle cx="637.50" cy="1126.55" r="4.86"/><circle cx="580.00" cy="1140.09" r="4.86"/><circle cx="651.50" cy="1140.09" r="4.86"/><circle cx="655.00" cy="1142.79" r="4.86"/><circle cx="632.30" cy="1141.44" r="4.86"/><circle cx="742.60" cy="1034.49" r="4.86"/><circle cx="737.50" cy="1053.44" r="4.86"/><circle cx="718.50" cy="1064.28" r="4.86"/><circle cx="780.40" cy="1075.11" r="4.86"/><circle cx="699.30" cy="1080.52" r="4.86"/><circle cx="704.50" cy="1088.64" r="4.86"/><circle cx="731.60" cy="1104.89" r="4.86"/><circle cx="715.50" cy="1115.72" r="4.86"/><circle cx="750.40" cy="1118.42" r="4.86"/><circle cx="696.50" cy="1126.55" r="4.86"/><circle cx="693.75" cy="1141.44" r="4.86"/><circle cx="702.00" cy="1141.44" r="4.86"/><circle cx="766.70" cy="1141.44" r="4.86"/><circle cx="761.60" cy="918.07" r="4.86"/><circle cx="723.50" cy="931.61" r="4.86"/><circle cx="755.40" cy="983.05" r="4.86"/><circle cx="680.30" cy="991.17" r="4.86"/><circle cx="769.40" cy="1020.96" r="4.86"/><circle cx="774.70" cy="1018.25" r="4.86"/></g>
</g>
<rect x="67.6" y="22.65" width="158.20000000000002" height="24.450000000000003" rx="3" ry="3" fill="#fff" fill-opacity="0.8" stroke="#cccccc" stroke-opacity="0.8" stroke-width="1.1"/><line x1="71.1" y1="33.9" x2="100.75" y2="33.9" stroke="#1f77b4" stroke-width="2.08"/>
<rect x="67.6" y="599.7" width="135.1" height="24.799999999999955" rx="3" ry="3" fill="#fff" fill-opacity="0.8" stroke="#cccccc" stroke-opacity="0.8" stroke-width="1.1"/><line x1="71.1" y1="609.6" x2="100.75" y2="609.6" stroke="#1f77b4" stroke-width="2.08"/>
<rect x="60.5" y="15.5" width="725.0" height="553.00" fill="none" stroke="#000" stroke-width="1" shape-rendering="crispEdges"/>
<rect x="60.5" y="592.5" width="725.0" height="553.00" fill="none" stroke="#000" stroke-width="1" shape-rendering="crispEdges"/>
<g stroke="#000">
<line x1="60.5" y1="568.5" x2="60.5" y2="573.70" stroke-width="1"/><line x1="135.5" y1="568.5" x2="135.5" y2="573.70" stroke-width="1"/><line x1="216.5" y1="568.5" x2="216.5" y2="573.70" stroke-width="1"/><line x1="299.5" y1="568.5" x2="299.5" y2="573.70" stroke-width="1"/><line x1="379.5" y1="568.5" x2="379.5" y2="573.70" stroke-width="1"/><line x1="463.5" y1="568.5" x2="463.5" y2="573.70" stroke-width="1"/><line x1="546.5" y1="568.5" x2="546.5" y2="573.70" stroke-width="1"/><line x1="627.5" y1="568.5" x2="627.5" y2="573.70" stroke-width="1"/><line x1="710.5" y1="568.5" x2="710.5" y2="573.70" stroke-width="1"/><line x1="785.5" y1="568.5" x2="785.5" y2="573.70" stroke-width="1"/><line x1="73.5" y1="568.5" x2="73.5" y2="571.50" stroke-width="0.9"/><line x1="92.5" y1="568.5" x2="92.5" y2="571.50" stroke-width="0.9"/><line x1="111.5" y1="568.5" x2="111.5" y2="571.50" stroke-width="0.9"/><line x1="130.5" y1="568.5" x2="130.5" y2="571.50" stroke-width="0.9"/><line x1="148.5" y1="568.5" x2="148.5" y2="571.50" stroke-width="0.9"/><line x1="167.5" y1="568.5" x2="167.5" y2="571.50" stroke-width="0.9"/><line x1="186.5" y1="568.5" x2="186.5" y2="571.50" stroke-width="0.9"/><line x1="205.5" y1="568.5" x2="205.5" y2="571.50" stroke-width="0.9"/><line x1="224.5" y1="568.5" x2="224.5" y2="571.50" stroke-width="0.9"/><line x1="242.5" y1="568.5" x2="242.5" y2="571.50" stroke-width="0.9"/><line x1="261.5" y1="568.5" x2="261.5" y2="571.50" stroke-width="0.9"/><line x1="280.5" y1="568.5" x2="280.5" y2="571.50" stroke-width="0.9"/><line x1="299.5" y1="568.5" x2="299.5" y2="571.50" stroke-width="0.9"/><line x1="318.5" y1="568.5" x2="318.5" y2="571.50" stroke-width="0.9"/><line x1="336.5" y1="568.5" x2="336.5" y2="571.50" stroke-width="0.9"/><line x1="355.5" y1="568.5" x2="355.5" y2="571.50" stroke-width="0.9"/><line x1="374.5" y1="568.5" x2="374.5" y2="571.50" stroke-width="0.9"/><line x1="393.5" y1="568.5" x2="393.5" y2="571.50" stroke-width="0.9"/><line x1="412.5" y1="568.5" x2="412.5" y2="571.50" stroke-width="0.9"/><line x1="430.5" y1="568.5" x2="430.5" y2="571.50" stroke-width="0.9"/><line x1="449.5" y1="568.5" x2="449.5" y2="571.50" stroke-width="0.9"/><line x1="468.5" y1="568.5" x2="468.5" y2="571.50" stroke-width="0.9"/><line x1="487.5" y1="568.5" x2="487.5" y2="571.50" stroke-width="0.9"/><line x1="506.5" y1="568.5" x2="506.5" y2="571.50" stroke-width="0.9"/><line x1="524.5" y1="568.5" x2="524.5" y2="571.50" stroke-width="0.9"/><line x1="543.5" y1="568.5" x2="543.5" y2="571.50" stroke-width="0.9"/><line x1="562.5" y1="568.5" x2="562.5" y2="571.50" stroke-width="0.9"/><line x1="581.5" y1="568.5" x2="581.5" y2="571.50" stroke-width="0.9"/><line x1="600.5" y1="568.5" x2="600.5" y2="571.50" stroke-width="0.9"/><line x1="618.5" y1="568.5" x2="618.5" y2="571.50" stroke-width="0.9"/><line x1="637.5" y1="568.5" x2="637.5" y2="571.50" stroke-width="0.9"/><line x1="656.5" y1="568.5" x2="656.5" y2="571.50" stroke-width="0.9"/><line x1="675.5" y1="568.5" x2="675.5" y2="571.50" stroke-width="0.9"/><line x1="694.5" y1="568.5" x2="694.5" y2="571.50" stroke-width="0.9"/><line x1="712.5" y1="568.5" x2="712.5" y2="571.50" stroke-width="0.9"/><line x1="731.5" y1="568.5" x2="731.5" y2="571.50" stroke-width="0.9"/><line x1="750.5" y1="568.5" x2="750.5" y2="571.50" stroke-width="0.9"/><line x1="769.5" y1="568.5" x2="769.5" y2="571.50" stroke-width="0.9"/>
<line x1="60.5" y1="1145.5" x2="60.5" y2="1150.70" stroke-width="1"/><line x1="135.5" y1="1145.5" x2="135.5" y2="1150.70" stroke-width="1"/><line x1="216.5" y1="1145.5" x2="216.5" y2="1150.70" stroke-width="1"/><line x1="299.5" y1="1145.5" x2="299.5" y2="1150.70" stroke-width="1"/><line x1="379.5" y1="1145.5" x2="379.5" y2="1150.70" stroke-width="1"/><line x1="463.5" y1="1145.5" x2="463.5" y2="1150.70" stroke-width="1"/><line x1="546.5" y1="1145.5" x2="546.5" y2="1150.70" stroke-width="1"/><line x1="627.5" y1="1145.5" x2="627.5" y2="1150.70" stroke-width="1"/><line x1="710.5" y1="1145.5" x2="710.5" y2="1150.70" stroke-width="1"/><line x1="785.5" y1="1145.5" x2="785.5" y2="1150.70" stroke-width="1"/><line x1="73.5" y1="1145.5" x2="73.5" y2="1148.50" stroke-width="0.9"/><line x1="92.5" y1="1145.5" x2="92.5" y2="1148.50" stroke-width="0.9"/><line x1="111.5" y1="1145.5" x2="111.5" y2="1148.50" stroke-width="0.9"/><line x1="130.5" y1="1145.5" x2="130.5" y2="1148.50" stroke-width="0.9"/><line x1="148.5" y1="1145.5" x2="148.5" y2="1148.50" stroke-width="0.9"/><line x1="167.5" y1="1145.5" x2="167.5" y2="1148.50" stroke-width="0.9"/><line x1="186.5" y1="1145.5" x2="186.5" y2="1148.50" stroke-width="0.9"/><line x1="205.5" y1="1145.5" x2="205.5" y2="1148.50" stroke-width="0.9"/><line x1="224.5" y1="1145.5" x2="224.5" y2="1148.50" stroke-width="0.9"/><line x1="242.5" y1="1145.5" x2="242.5" y2="1148.50" stroke-width="0.9"/><line x1="261.5" y1="1145.5" x2="261.5" y2="1148.50" stroke-width="0.9"/><line x1="280.5" y1="1145.5" x2="280.5" y2="1148.50" stroke-width="0.9"/><line x1="299.5" y1="1145.5" x2="299.5" y2="1148.50" stroke-width="0.9"/><line x1="318.5" y1="1145.5" x2="318.5" y2="1148.50" stroke-width="0.9"/><line x1="336.5" y1="1145.5" x2="336.5" y2="1148.50" stroke-width="0.9"/><line x1="355.5" y1="1145.5" x2="355.5" y2="1148.50" stroke-width="0.9"/><line x1="374.5" y1="1145.5" x2="374.5" y2="1148.50" stroke-width="0.9"/><line x1="393.5" y1="1145.5" x2="393.5" y2="1148.50" stroke-width="0.9"/><line x1="412.5" y1="1145.5" x2="412.5" y2="1148.50" stroke-width="0.9"/><line x1="430.5" y1="1145.5" x2="430.5" y2="1148.50" stroke-width="0.9"/><line x1="449.5" y1="1145.5" x2="449.5" y2="1148.50" stroke-width="0.9"/><line x1="468.5" y1="1145.5" x2="468.5" y2="1148.50" stroke-width="0.9"/><line x1="487.5" y1="1145.5" x2="487.5" y2="1148.50" stroke-width="0.9"/><line x1="506.5" y1="1145.5" x2="506.5" y2="1148.50" stroke-width="0.9"/><line x1="524.5" y1="1145.5" x2="524.5" y2="1148.50" stroke-width="0.9"/><line x1="543.5" y1="1145.5" x2="543.5" y2="1148.50" stroke-width="0.9"/><line x1="562.5" y1="1145.5" x2="562.5" y2="1148.50" stroke-width="0.9"/><line x1="581.5" y1="1145.5" x2="581.5" y2="1148.50" stroke-width="0.9"/><line x1="600.5" y1="1145.5" x2="600.5" y2="1148.50" stroke-width="0.9"/><line x1="618.5" y1="1145.5" x2="618.5" y2="1148.50" stroke-width="0.9"/><line x1="637.5" y1="1145.5" x2="637.5" y2="1148.50" stroke-width="0.9"/><line x1="656.5" y1="1145.5" x2="656.5" y2="1148.50" stroke-width="0.9"/><line x1="675.5" y1="1145.5" x2="675.5" y2="1148.50" stroke-width="0.9"/><line x1="694.5" y1="1145.5" x2="694.5" y2="1148.50" stroke-width="0.9"/><line x1="712.5" y1="1145.5" x2="712.5" y2="1148.50" stroke-width="0.9"/><line x1="731.5" y1="1145.5" x2="731.5" y2="1148.50" stroke-width="0.9"/><line x1="750.5" y1="1145.5" x2="750.5" y2="1148.50" stroke-width="0.9"/><line x1="769.5" y1="1145.5" x2="769.5" y2="1148.50" stroke-width="0.9"/>
<line x1="55" y1="568.5" x2="60.5" y2="568.5" stroke-width="1"/>
<line x1="55" y1="496.5" x2="60.5" y2="496.5" stroke-width="1"/>
<line x1="55" y1="424.5" x2="60.5" y2="424.5" stroke-width="1"/>
<line x1="55" y1="352.5" x2="60.5" y2="352.5" stroke-width="1"/>
<line x1="55" y1="280.5" x2="60.5" y2="280.5" stroke-width="1"/>
<line x1="55" y1="208.5" x2="60.5" y2="208.5" stroke-width="1"/>
<line x1="55" y1="136.5" x2="60.5" y2="136.5" stroke-width="1"/>
<line x1="55" y1="64.5" x2="60.5" y2="64.5" stroke-width="1"/>
<line x1="55" y1="1145.5" x2="60.5" y2="1145.5" stroke-width="1"/>
<line x1="55" y1="1077.5" x2="60.5" y2="1077.5" stroke-width="1"/>
<line x1="55" y1="1009.5" x2="60.5" y2="1009.5" stroke-width="1"/>
<line x1="55" y1="941.5" x2="60.5" y2="941.5" stroke-width="1"/>
<line x1="55" y1="874.5" x2="60.5" y2="874.5" stroke-width="1"/>
<line x1="55" y1="806.5" x2="60.5" y2="806.5" stroke-width="1"/>
<line x1="55" y1="738.5" x2="60.5" y2="738.5" stroke-width="1"/>
<line x1="55" y1="671.5" x2="60.5" y2="671.5" stroke-width="1"/>
<line x1="55" y1="603.5" x2="60.5" y2="603.5" stroke-width="1"/>
</g>
<text x="13.60" y="68.80" font-size="13.89" textLength="35.22" lengthAdjust="spacingAndGlyphs">7000</text>
<text x="14.80" y="140.80" font-size="13.89" textLength="35.22" lengthAdjust="spacingAndGlyphs">6000</text>
<text x="13.65" y="213.00" font-size="13.89" textLength="35.22" lengthAdjust="spacingAndGlyphs">5000</text>
<text x="14.65" y="285.50" font-size="13.89" textLength="35.22" lengthAdjust="spacingAndGlyphs">4000</text>
<text x="13.65" y="357.50" font-size="13.89" textLength="35.22" lengthAdjust="spacingAndGlyphs">3000</text>
<text x="14.65" y="429.50" font-size="13.89" textLength="35.22" lengthAdjust="spacingAndGlyphs">2000</text>
<text x="14.80" y="502.00" font-size="13.89" textLength="35.22" lengthAdjust="spacingAndGlyphs">1000</text>
<text x="41.61" y="574.00" font-size="13.89" textLength="8.81" lengthAdjust="spacingAndGlyphs">0</text>
<text x="23.70" y="607.70" font-size="13.89" textLength="26.42" lengthAdjust="spacingAndGlyphs">200</text>
<text x="22.50" y="675.65" font-size="13.89" textLength="26.42" lengthAdjust="spacingAndGlyphs">175</text>
<text x="22.45" y="743.65" font-size="13.89" textLength="26.42" lengthAdjust="spacingAndGlyphs">150</text>
<text x="22.50" y="811.65" font-size="13.89" textLength="26.42" lengthAdjust="spacingAndGlyphs">125</text>
<text x="22.45" y="878.90" font-size="13.89" textLength="26.42" lengthAdjust="spacingAndGlyphs">100</text>
<text x="31.30" y="946.90" font-size="13.89" textLength="17.61" lengthAdjust="spacingAndGlyphs">75</text>
<text x="32.26" y="1014.90" font-size="13.89" textLength="17.61" lengthAdjust="spacingAndGlyphs">50</text>
<text x="32.55" y="1082.90" font-size="13.89" textLength="17.61" lengthAdjust="spacingAndGlyphs">25</text>
<text x="41.81" y="1150.70" font-size="13.89" textLength="8.81" lengthAdjust="spacingAndGlyphs">0</text>
<text x="123.27" y="1165.9" font-size="13.89" textLength="23.08" lengthAdjust="spacingAndGlyphs">Apr</text>
<text x="201.48" y="1165.9" font-size="13.89" textLength="28.05" lengthAdjust="spacingAndGlyphs">May</text>
<text x="287.29" y="1165.9" font-size="13.89" textLength="21.58" lengthAdjust="spacingAndGlyphs">Jun</text>
<text x="370.19" y="1165.9" font-size="13.89" textLength="16.78" lengthAdjust="spacingAndGlyphs">Jul</text>
<text x="449.27" y="1165.9" font-size="13.89" textLength="26.18" lengthAdjust="spacingAndGlyphs">Aug</text>
<text x="533.88" y="1165.9" font-size="13.89" textLength="24.40" lengthAdjust="spacingAndGlyphs">Sep</text>
<text x="615.01" y="1165.9" font-size="13.89" textLength="22.80" lengthAdjust="spacingAndGlyphs">Oct</text>
<text x="696.50" y="1165.9" font-size="13.89" textLength="25.95" lengthAdjust="spacingAndGlyphs">Nov</text>
<text x="118.11" y="1181.75" font-size="13.89" textLength="34.75" lengthAdjust="spacingAndGlyphs">2020</text>
<text x="331.74" y="35.7" font-size="16.4" textLength="130.92" lengthAdjust="spacingAndGlyphs">Kansas 28 days</text>
<text x="111.32" y="38.0" font-size="13.89" textLength="108.52" lengthAdjust="spacingAndGlyphs">daily confirmed</text>
<text x="111.03" y="613.7" font-size="13.89" textLength="85.65" lengthAdjust="spacingAndGlyphs">daily deaths</text>
</svg></body></html>
